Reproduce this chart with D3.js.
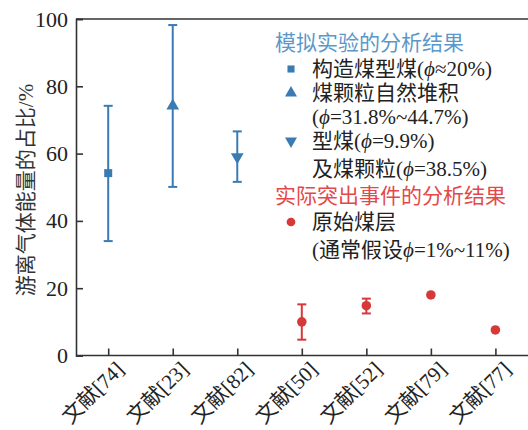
<!DOCTYPE html>
<html>
<head>
<meta charset="utf-8">
<script src="https://cdn.jsdelivr.net/npm/d3@7"></script>
<style>
  body { margin: 0; background: #fff; }
  svg { display: block; }
  text { font-family: "Liberation Serif", "Noto Sans CJK SC", serif; }
</style>
</head>
<body>
<svg id="chart" width="528" height="430"></svg>
<script>
// Sources (x categories)
const categories = ["文献[74]", "文献[23]", "文献[82]", "文献[50]", "文献[52]", "文献[79]", "文献[77]"];
// Free gas energy share (%), with lower / upper bounds where reported
const centers = [54.2, 74.2, 59.0, 10.0, 14.8, 18.0, 7.6];
const lows    = [34.0, 50.1, 51.6, 4.7, 12.5, null, null];
const highs   = [74.2, 98.2, 66.6, 15.2, 16.9, null, null];
// Marker type per source: simulation experiments vs. actual outburst events
const kinds   = ["square", "triangle", "triangleDown", "circle", "circle", "circle", "circle"];
const yTicks  = [0, 20, 40, 60, 80, 100];

const BLUE = "#3b7bb4", RED = "#d7393a";
const BLUE_T = "#5b98c9", RED_T = "#e3494b";
const INK = "#222";

const svg = d3.select("#chart");
const m = { left: 76, right: 0, top: 19, bottom: 74 };
const W = 528, H = 430;

const x = d3.scalePoint().domain(categories).range([m.left + 32.2, W + 32.2 - 64.8]).padding(0);
const y = d3.scaleLinear().domain([0, 100]).range([H - m.bottom - 0.5, m.top]);

// axes
const axisColor = "#333";
const gy = svg.append("g").attr("transform", `translate(${m.left},0)`)
  .call(d3.axisLeft(y).tickValues(yTicks).tickSize(-7).tickPadding(8).tickFormat(d3.format("d")));
const gx = svg.append("g").attr("transform", `translate(0,${y(0)})`)
  .call(d3.axisBottom(x).tickSize(-7).tickFormat(""));
gx.select(".domain").attr("d", `M${m.left},0H${W}`);
svg.append("line").attr("x1", m.left).attr("x2", W).attr("y1", y(100)).attr("y2", y(100))
  .attr("stroke", axisColor).attr("stroke-width", 1.6);

[gx, gy].forEach(g => {
  g.select(".domain").attr("stroke", axisColor).attr("stroke-width", 1.6);
  g.selectAll(".tick line").attr("stroke", axisColor).attr("stroke-width", 1.6);
});
gy.selectAll(".tick text").attr("font-size", 22).style("fill", INK)
  .attr("font-family", "Liberation Serif, serif");

// rotated category labels
svg.append("g").selectAll("text").data(categories).join("text")
  .attr("transform", d => `translate(${x(d) + 17},${y(0) + 15}) rotate(-45)`)
  .attr("text-anchor", "end")
  .attr("font-size", 21)
  .style("fill", INK)
  .text(d => d);

// y title
svg.append("text")
  .attr("transform", `translate(33,${190}) rotate(-90)`)
  .attr("text-anchor", "middle").attr("font-size", 21).style("fill", "#333")
  .text("游离气体能量的占比/%");

const color = i => kinds[i] === "circle" ? RED : BLUE;

// error bars
const data = categories.map((c, i) => ({ c, i, v: centers[i], lo: lows[i], hi: highs[i], k: kinds[i] }));
const eb = svg.append("g").selectAll("g").data(data.filter(d => d.lo !== null)).join("g")
  .attr("stroke", d => color(d.i)).attr("stroke-width", 2);
eb.append("line").attr("x1", d => x(d.c)).attr("x2", d => x(d.c)).attr("y1", d => y(d.lo)).attr("y2", d => y(d.hi));
eb.append("line").attr("x1", d => x(d.c) - 4.5).attr("x2", d => x(d.c) + 4.5).attr("y1", d => y(d.lo)).attr("y2", d => y(d.lo));
eb.append("line").attr("x1", d => x(d.c) - 4.5).attr("x2", d => x(d.c) + 4.5).attr("y1", d => y(d.hi)).attr("y2", d => y(d.hi));

// markers
const symType = { square: d3.symbolSquare, triangle: d3.symbolTriangle, triangleDown: d3.symbolTriangle, circle: d3.symbolCircle };
const symSize = { square: 64, triangle: 70, triangleDown: 70, circle: 72 };
svg.append("g").selectAll("path").data(data).join("path")
  .attr("d", d => d3.symbol(symType[d.k], symSize[d.k])())
  .attr("transform", d => `translate(${x(d.c)},${y(d.v)})${d.k === "triangleDown" ? " rotate(180)" : ""}`)
  .attr("fill", d => color(d.i));

// legend
const lg = svg.append("g").attr("font-size", 21);
const legendLines = [
  { t: "模拟实验的分析结果", x: 275, y: 43, fill: BLUE_T },
  { t: "构造煤型煤(ϕ≈20%)", x: 312, y: 69, sym: "square" },
  { t: "煤颗粒自然堆积", x: 312, y: 93, sym: "triangle" },
  { t: "(ϕ=31.8%~44.7%)", x: 312, y: 117 },
  { t: "型煤(ϕ=9.9%)", x: 312, y: 141, sym: "triangleDown" },
  { t: "及煤颗粒(ϕ=38.5%)", x: 312, y: 169 },
  { t: "实际突出事件的分析结果", x: 275, y: 196, fill: RED_T },
  { t: "原始煤层", x: 312, y: 222, sym: "circle" },
  { t: "(通常假设ϕ=1%~11%)", x: 312, y: 250 }
];
const legendSym = { square: 50, triangle: 62, triangleDown: 62, circle: 60 };
legendLines.forEach(l => {
  const t = lg.append("text").attr("x", l.x).attr("y", l.y)
    .attr("dy", "0.35em").style("fill", l.fill || INK);
  l.t.split(/(ϕ)/).forEach(part => {
    if (!part) return;
    const s = t.append("tspan").text(part);
    if (part === "ϕ") s.attr("font-style", "italic");
  });
  if (l.sym) {
    lg.append("path")
      .attr("d", d3.symbol(symType[l.sym], legendSym[l.sym])())
      .attr("transform", `translate(291,${l.y})${l.sym === "triangleDown" ? " rotate(180)" : ""}`)
      .attr("fill", l.sym === "circle" ? RED : BLUE);
  }
});
</script>
</body>
</html>
